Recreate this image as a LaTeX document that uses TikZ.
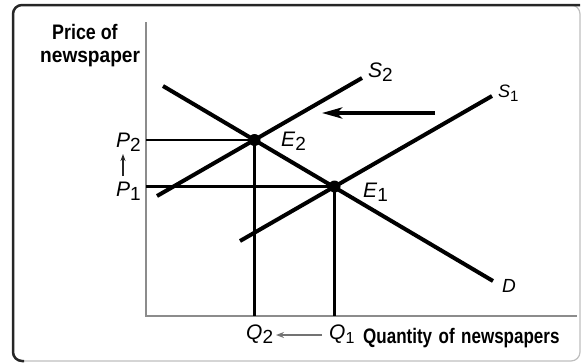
\documentclass[tikz,border=0pt]{standalone}
\usepackage{fontspec}
\setmainfont{Liberation Sans}
\usetikzlibrary{arrows.meta}
\newcommand\mylab[3][19]{\textit{#2}\raisebox{-4pt}{\fontsize{#1}{#1}\selectfont #3}}
\newcommand\narrow[2][0.85]{\scalebox{#1}[1]{#2}}
\begin{document}
\begin{tikzpicture}[x=1pt,y=-1pt,
  curve/.style={line width=4pt, black},
  guide/.style={line width=2.2pt, black},
  axisline/.style={line width=2pt, black!45},
  lbl/.style={font=\fontsize{21}{21}\selectfont, inner sep=0pt, anchor=base west},
  ttl/.style={font=\fontsize{21}{21}\selectfont\bfseries, inner sep=0pt, anchor=base west},
  eqdot/.style={circle, fill=black, minimum size=12pt, inner sep=0pt}]
\useasboundingbox (0,0) rectangle (587,364);
% frame
\draw[black!25, line width=1.2pt, rounded corners=9pt] (13,5) rectangle (580,361);
\draw[black!85, line width=2.5pt, rounded corners=9pt] (24,361) -- (13,361) -- (13,5) -- (580,5);
% axes
\coordinate (top) at (146,22);
\coordinate (O) at (146,316);
\coordinate (xend) at (577,316);
\draw[axisline] (top) -- (O) -- (xend);
% curves
\coordinate (D0) at (163,86);
\coordinate (D1) at (493,281);
\coordinate (S20) at (157,196);
\coordinate (S21) at (362,78);
\coordinate (S10) at (240,241);
\coordinate (S11) at (492,96);
\node[eqdot] (E2) at (254.5,140) {};
\node[eqdot] (E1) at (334.5,186.5) {};
\coordinate (P2) at (146,140);
\coordinate (P1) at (146,186.5);
\coordinate (Q2) at (254.5,316);
\coordinate (Q1) at (334.5,316);
\draw[guide] (P2) -- (E2.center) -- (Q2);
\draw[guide] (P1) -- (E1.center) -- (Q1);
\draw[curve] (D0) -- (D1);
\draw[curve] (S20) -- (S21);
\draw[curve] (S10) -- (S11);
% shift arrow
\coordinate (a0) at (435,113);
\coordinate (a1) at (322,113);
\draw[line width=3.5pt, -{Stealth[length=20pt,width=11pt,inset=5pt]}] (a0) -- (a1);
% price arrow
\coordinate (p0) at (123,176);
\coordinate (p1) at (123,154);
\draw[line width=1.5pt, black!85, -{Stealth[length=7pt,width=5pt]}] (p0) -- (p1);
% quantity arrow
\coordinate (q0) at (322,335);
\coordinate (q1) at (276,335);
\draw[line width=1.8pt, black!55, -{Stealth[length=8pt,width=6pt]}] (q0) -- (q1);
% labels
\node[ttl] (t1) at (52,39) {\narrow{Price of}};
\node[ttl] (t2) at (40,62) {\narrow[0.91]{newspaper}};
\node[ttl] (t3) at (363,343) {\narrow[0.81]{Quantity\hspace{8pt}of\hspace{8pt}newspapers}};
\node[lbl] (lP2) at (116,147) {\mylab{P}{2}};
\node[lbl] (lP1) at (116,196) {\mylab{P}{1}};
\node[lbl] (lQ2) at (246,339) {\mylab{Q}{2}};
\node[lbl] (lQ1) at (329,339) {\mylab[16]{Q}{1}};
\node[lbl] (lE2) at (281,146) {\mylab{E}{2}};
\node[lbl] (lE1) at (363,197) {\mylab{E}{1}};
\node[lbl] (lS2) at (368,77) {\mylab{S}{2}};
\node[lbl, font=\fontsize{18}{18}\selectfont] (lS1) at (498,97) {\mylab[15]{S}{1}};
\node[lbl, font=\fontsize{19}{19}\selectfont] (lD) at (502,292) {\textit{D}};
\end{tikzpicture}
\end{document}
